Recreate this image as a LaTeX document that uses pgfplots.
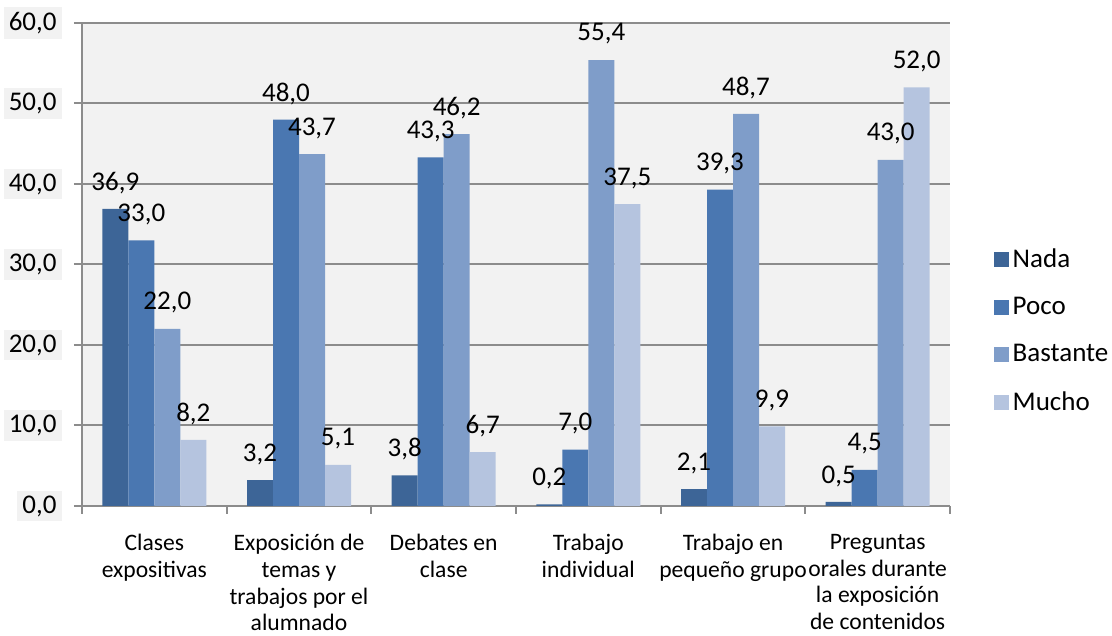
\documentclass[border=0pt]{standalone}
\usepackage{fontspec}
\setmainfont{Carlito}
\usepackage{pgfplots}
\usepackage{pgfplotstable}
\pgfplotsset{compat=1.18}

\definecolor{cNada}{HTML}{3D6597}
\definecolor{cPoco}{HTML}{4A77B1}
\definecolor{cBastante}{HTML}{7F9DC9}
\definecolor{cMucho}{HTML}{B5C4DF}
\definecolor{gridgray}{HTML}{8C8C8C}
\definecolor{plotbg}{HTML}{F2F2F2}

\pgfplotstableread{
x  nada poco bastante mucho
0  36.9 33.0 22.0 8.2
1  3.2  48.0 43.7 5.1
2  3.8  43.3 46.2 6.7
3  0.2  7.0  55.4 37.5
4  2.1  39.3 48.7 9.9
5  0.5  4.5  43.0 52.0
}\datatable

\begin{document}
\begin{tikzpicture}
\begin{axis}[
    name=ax,
    scale only axis,
    width=434pt, height=241.5pt,
    ybar=0pt, bar width=13pt,
    xmin=-0.5, xmax=5.5,
    ymin=0, ymax=60,
    ytick={0,10,...,60},
    xtick={0,...,5},
    xticklabels={
        {Clases\\expositivas},
        {Exposición de\\temas y\\trabajos por el\\alumnado},
        {Debates en\\clase},
        {Trabajo\\individual},
        {Trabajo en\\pequeño grupo},
        {Preguntas\\orales durante\\la exposición\\de contenidos}},
    xtick style={draw=none},
    extra x ticks={-0.5,0.5,...,5.5},
    extra x tick labels={},
    extra x tick style={xtick style={draw=gridgray, line width=1pt}, major tick length=4pt, tick align=outside},
    axis lines*=left,
    axis line style={draw=gridgray, line width=1pt},
    ymajorgrids,
    grid style={draw=gridgray, line width=1pt},
    ytick style={draw=gridgray, line width=1pt},
    tick align=outside,
    major tick length=4pt,
    axis background/.style={fill=plotbg},
    /pgf/number format/.cd, fixed, fixed zerofill, precision=1, use comma, assume math mode=true,
    /pgfplots/.cd,
    yticklabel style={font=\fontsize{13.5}{16}\selectfont, fill=plotbg, inner sep=2.5pt, xshift=-6pt},
    xticklabel style={font=\fontsize{11.8}{13.4}\selectfont, align=center, yshift=-6.5pt},
    nodes near coords,
    nodes near coords style={font=\fontsize{13.5}{16}\selectfont, anchor=center, yshift=13pt},
    legend style={at={(1.043,0.362)}, anchor=west, draw=none, fill=none,
        font=\fontsize{13.5}{16}\selectfont, row sep=9.5pt, legend cell align=left},
    legend image code/.code={\fill[#1] (0pt,-3.75pt) rectangle (7.5pt,3.75pt);},
    clip=false,
]
\addplot[fill=cNada, draw=none] table[x=x, y=nada] {\datatable};
\addplot[fill=cPoco, draw=none] table[x=x, y=poco] {\datatable};
\addplot[fill=cBastante, draw=none] table[x=x, y=bastante] {\datatable};
\addplot[fill=cMucho, draw=none] table[x=x, y=mucho] {\datatable};
\legend{Nada, Poco, Bastante, Mucho}
\end{axis}
\pgfresetboundingbox
\path[use as bounding box] (ax.south west) ++(-41pt,-65pt) rectangle ++(556pt,318pt);
\end{tikzpicture}
\end{document}
